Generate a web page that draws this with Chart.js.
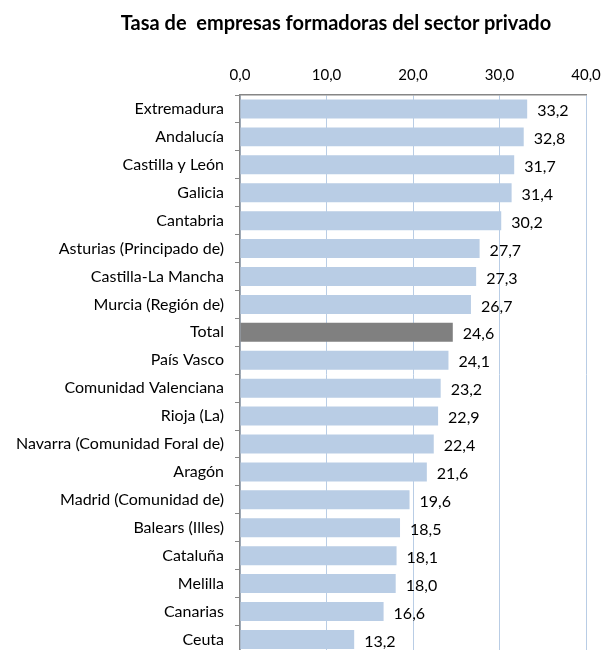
<!DOCTYPE html>
<html>
<head>
<meta charset="utf-8">
<script src="https://cdn.jsdelivr.net/npm/chart.js@4"></script>
<style>
body { margin: 0; background: #fff; overflow: hidden; }
.wrap { position: relative; width: 601px; height: 674px; }
.titulo { position: absolute; top: 10px; left: 0; width: 672px; text-align: center; font: bold 20px Lato, sans-serif; color: #000; white-space: pre; z-index: 1; }
canvas { position: absolute; top: 0; left: 0; }
</style>
</head>
<body>
<div class="wrap">
  <div class="titulo">Tasa de  empresas formadoras del sector privado</div>
  <canvas id="grafico" width="601" height="674"></canvas>
</div>
<script>
// comunidades y tasa (%)
var comunidades = ['Extremadura', 'Andalucía', 'Castilla y León', 'Galicia', 'Cantabria', 'Asturias (Principado de)', 'Castilla-La Mancha', 'Murcia (Región de)', 'Total', 'País Vasco', 'Comunidad Valenciana', 'Rioja (La)', 'Navarra (Comunidad Foral de)', 'Aragón', 'Madrid (Comunidad de)', 'Balears (Illes)', 'Cataluña', 'Melilla', 'Canarias', 'Ceuta']
var valores = [33.2, 32.8, 31.7, 31.4, 30.2, 27.7, 27.3, 26.7, 24.6, 24.1, 23.2, 22.9, 22.4, 21.6, 19.6, 18.5, 18.1, 18.0, 16.6, 13.2]
var escala = [0, 40, 10]

function coma(v){
    return Number(v).toFixed(1).replace('.', ',')
}

var colores = comunidades.map(function(c){
    return c == 'Total' ? '#808080' : '#b9cde5'
})

// etiquetas con el valor al final de cada barra
const etiquetasValor = {
    id: 'etiquetasValor',
    afterDatasetsDraw(chart){
        const ctx = chart.ctx
        ctx.save()
        ctx.font = '16px Lato'
        ctx.fillStyle = '#000'
        ctx.textBaseline = 'middle'
        chart.getDatasetMeta(0).data.forEach(function(bar, i){
            ctx.fillText(coma(valores[i]), bar.x + 10, bar.y + 2)
        })
        ctx.restore()
    }
}

const ctx = document.getElementById('grafico').getContext('2d')
const grafico = new Chart(ctx, {
    type: 'bar',
    data: {
        labels: comunidades,
        datasets: [{
            data: valores,
            backgroundColor: colores,
            borderWidth: 0,
            barPercentage: 0.68,
            categoryPercentage: 1
        }]
    },
    options: {
        indexAxis: 'y',
        responsive: false,
        animation: false,
        layout: {
            padding: { top: 60, right: 15, bottom: 7, left: 0 }
        },
        scales: {
            x: {
                position: 'top',
                min: escala[0],
                max: escala[1],
                afterFit: function(scale){
                    scale.height = 35
                    scale.paddingLeft = 0
                    scale.paddingRight = 0
                },
                ticks: {
                    stepSize: escala[2],
                    padding: 11,
                    color: '#000',
                    font: { family: 'Lato', size: 15 },
                    callback: function(v){ return coma(v) }
                },
                grid: {
                    color: '#b9cde5',
                    drawTicks: false
                },
                border: { color: '#868686', width: 1.5 }
            },
            y: {
                afterFit: function(scale){ scale.width = 240 },
                ticks: {
                    autoSkip: false,
                    padding: 11,
                    color: '#000',
                    font: { family: 'Lato', size: 16 }
                },
                grid: {
                    offset: true,
                    drawOnChartArea: false,
                    tickLength: 5,
                    color: '#868686'
                },
                border: { color: '#868686', width: 1.5 }
            }
        },
        plugins: {
            legend: { display: false },
            tooltip: { enabled: false }
        }
    },
    plugins: [etiquetasValor]
})
</script>
</body>
</html>
